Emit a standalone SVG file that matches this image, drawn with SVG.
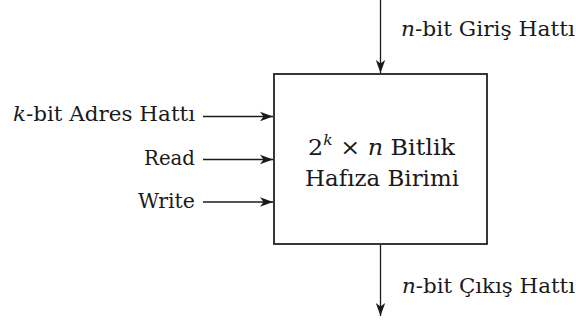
<svg xmlns="http://www.w3.org/2000/svg" width="576" height="320" viewBox="0 0 576 320">
  <style>
    text { font-family: 'DejaVu Serif', 'Liberation Serif', serif; fill: #1a1a1a; }
    .lbl { font-size: 21px; }
    .mid { font-size: 23px; }
    .it { font-style: italic; }
    .wire { stroke: #1a1a1a; stroke-width: 1.3; fill: none; }
    .box { stroke: #222; stroke-width: 1.8; fill: #fff; }
  </style>
  <defs>
    <marker id="head" markerUnits="userSpaceOnUse" markerWidth="16" markerHeight="12" refX="14" refY="6" orient="auto">
      <path d="M14,6 L1,1.3 L4.5,6 L1,10.7 Z" fill="#1a1a1a"/>
    </marker>
  </defs>

  <rect width="576" height="320" fill="#fff"/>

  <!-- memory block -->
  <g id="memory">
    <rect class="box" x="274" y="74" width="213" height="170"/>
    <text class="mid" x="381.5" y="155" text-anchor="middle" textLength="147" lengthAdjust="spacingAndGlyphs">2<tspan class="it" font-size="15" dy="-10">k</tspan><tspan dy="10"> × </tspan><tspan class="it">n</tspan> Bitlik</text>
    <text class="mid" x="382" y="186" text-anchor="middle" textLength="154" lengthAdjust="spacingAndGlyphs">Hafıza Birimi</text>
  </g>

  <!-- signal labels -->
  <g id="addr">
    <text class="lbl" x="195" y="121" text-anchor="end" textLength="182" lengthAdjust="spacingAndGlyphs"><tspan class="it">k</tspan>-bit Adres Hattı</text>
  </g>
  <g id="read">
    <text class="lbl" x="195" y="165" text-anchor="end" textLength="51" lengthAdjust="spacingAndGlyphs">Read</text>
  </g>
  <g id="write">
    <text class="lbl" x="195" y="208" text-anchor="end" textLength="57" lengthAdjust="spacingAndGlyphs">Write</text>
  </g>
  <g id="data-in">
    <text class="lbl" x="401" y="36" textLength="174" lengthAdjust="spacingAndGlyphs"><tspan class="it">n</tspan>-bit Giriş Hattı</text>
  </g>
  <g id="data-out">
    <text class="lbl" x="402" y="293" textLength="173" lengthAdjust="spacingAndGlyphs"><tspan class="it">n</tspan>-bit Çıkış Hattı</text>
  </g>

  <!-- connectors -->
  <g id="connectors">
    <line class="wire" x1="203" y1="116.5" x2="273" y2="116.5" marker-end="url(#head)"/>
    <line class="wire" x1="203" y1="159.5" x2="273" y2="159.5" marker-end="url(#head)"/>
    <line class="wire" x1="203" y1="202" x2="273" y2="202" marker-end="url(#head)"/>
    <line class="wire" x1="380.5" y1="0" x2="380.5" y2="73" marker-end="url(#head)"/>
    <line class="wire" x1="380.5" y1="245" x2="380.5" y2="316" marker-end="url(#head)"/>
  </g>
</svg>
